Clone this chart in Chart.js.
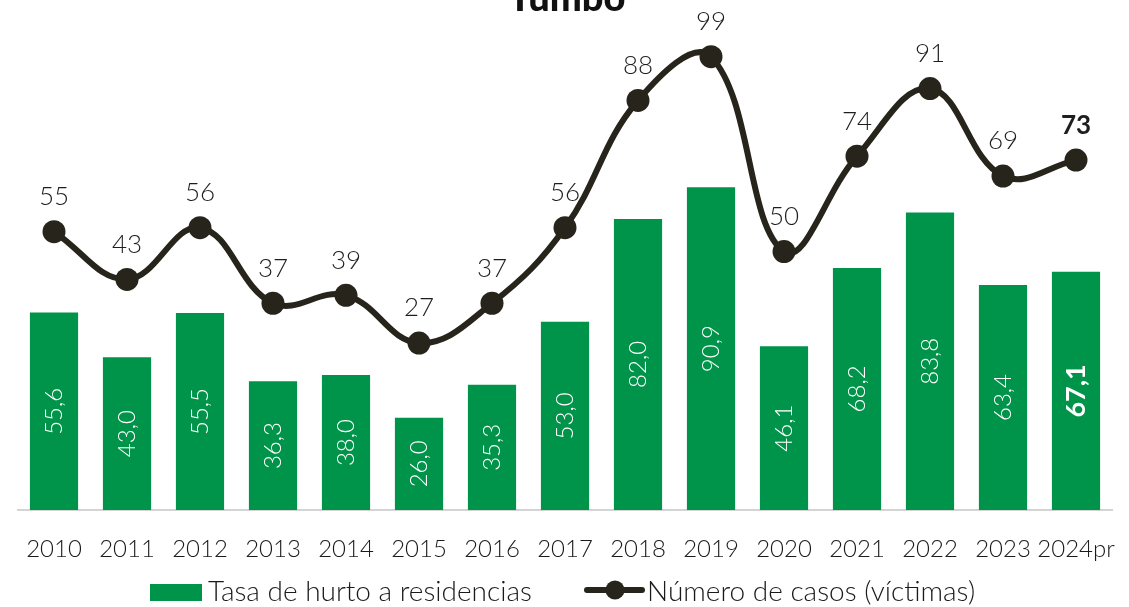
<!DOCTYPE html>
<html>
<head>
<meta charset="utf-8">
<script src="https://cdn.jsdelivr.net/npm/chart.js@4.4.1/dist/chart.umd.min.js"></script>
<style>
  html, body { margin: 0; padding: 0; background: #fff; overflow: hidden; }
  #wrap { position: relative; width: 1129px; height: 607px; }
</style>
</head>
<body>
<div id="wrap"><canvas id="chart"></canvas></div>
<script>
// Datos
const years = ['2010', '2011', '2012', '2013', '2014', '2015', '2016', '2017', '2018', '2019', '2020', '2021', '2022', '2023', '2024pr'];
const tasaHurto = [55.6, 43.0, 55.5, 36.3, 38.0, 26.0, 35.3, 53.0, 82.0, 90.9, 46.1, 68.2, 83.8, 63.4, 67.1];
const numCasos = [55, 43, 56, 37, 39, 27, 37, 56, 88, 99, 50, 74, 91, 69, 73];

const GREEN = '#00944a';
const DARK = '#27241b';
const FONT = 'Lato, "Open Sans", sans-serif';

const fmt = v => v.toFixed(1).replace('.', ',');

// etiquetas de valor (barras rotadas, línea encima)
const valueLabels = {
    id: 'valueLabels',
    afterDatasetsDraw(chart) {
        const ctx = chart.ctx;
        const last = years.length - 1;

        const barMeta = chart.getDatasetMeta(0);
        barMeta.data.forEach((el, i) => {
            const cy = (el.y + el.base) / 2;
            ctx.save();
            ctx.translate(el.x, cy);
            ctx.rotate(-Math.PI / 2);
            ctx.fillStyle = '#fff';
            ctx.font = (i === last ? 'bold 27px ' : '300 24px ') + FONT;
            ctx.textAlign = 'center';
            ctx.textBaseline = 'middle';
            ctx.fillText(fmt(tasaHurto[i]), 0, 0);
            ctx.restore();
        });

        const lineMeta = chart.getDatasetMeta(1);
        lineMeta.data.forEach((pt, i) => {
            ctx.save();
            ctx.fillStyle = '#1e1e1e';
            ctx.font = (i === last ? 'bold 26px ' : '300 26px ') + FONT;
            ctx.textAlign = 'center';
            ctx.textBaseline = 'middle';
            ctx.fillText(String(numCasos[i]), pt.x, pt.y - 35);
            ctx.restore();
        });
    }
};

// título (cortado arriba) y leyenda inferior
const extras = {
    id: 'extras',
    afterDraw(chart) {
        const ctx = chart.ctx;
        ctx.save();
        ctx.fillStyle = '#111';
        ctx.font = '900 38px ' + FONT;
        ctx.textAlign = 'center';
        ctx.textBaseline = 'alphabetic';
        ctx.fillText('Tumbo', 567, 11);

        const ly = 592;
        ctx.fillStyle = GREEN;
        ctx.fillRect(150, ly - 8, 52, 17);
        ctx.fillStyle = '#1a1a1a';
        ctx.font = '300 28px ' + FONT;
        ctx.textAlign = 'left';
        ctx.textBaseline = 'middle';
        ctx.fillText('Tasa de hurto a residencias', 208, ly);

        ctx.strokeStyle = DARK;
        ctx.lineWidth = 6;
        ctx.lineCap = 'round';
        ctx.beginPath();
        ctx.moveTo(587, ly - 2);
        ctx.lineTo(642, ly - 2);
        ctx.stroke();
        ctx.fillStyle = DARK;
        ctx.beginPath();
        ctx.arc(615, ly - 2, 9.5, 0, Math.PI * 2);
        ctx.fill();
        ctx.fillStyle = '#1a1a1a';
        ctx.fillText('Número de casos (víctimas)', 647, ly);
        ctx.restore();
    }
};

new Chart(document.getElementById('chart'), {
    data: {
        labels: years,
        datasets: [
            {
                type: 'bar',
                label: 'Tasa de hurto a residencias',
                data: tasaHurto,
                yAxisID: 'y',
                backgroundColor: GREEN,
                barPercentage: 0.66,
                categoryPercentage: 1,
                order: 1
            },
            {
                type: 'line',
                label: 'Número de casos (víctimas)',
                data: numCasos,
                yAxisID: 'y1',
                borderColor: DARK,
                backgroundColor: DARK,
                borderWidth: 6,
                tension: 0.4,
                pointRadius: 11.5,
                pointHoverRadius: 11.5,
                pointBackgroundColor: DARK,
                pointBorderWidth: 0,
                order: 0
            }
        ]
    },
    options: {
        responsive: true,
        maintainAspectRatio: false,
        animation: false,
        layout: { padding: { top: 13, left: 17.5, right: 16.5, bottom: 44 } },
        plugins: {
            legend: { display: false },
            tooltip: { enabled: false }
        },
        scales: {
            x: {
                offset: true,
                grid: { display: false, drawTicks: false },
                border: { display: true, color: '#d4d4d4', width: 2 },
                ticks: {
                    color: '#1a1a1a',
                    font: { family: FONT, size: 24, weight: '300' },
                    padding: 25,
                    maxRotation: 0,
                    autoSkip: false
                },
                afterFit(scale) {
                    scale.height = 53;
                    scale.paddingLeft = 0;
                    scale.paddingRight = 0;
                }
            },
            y: { display: false, min: 0, max: 140 },
            y1: { display: false, min: -15, max: 110 }
        }
    },
    plugins: [valueLabels, extras]
});
</script>
</body>
</html>
